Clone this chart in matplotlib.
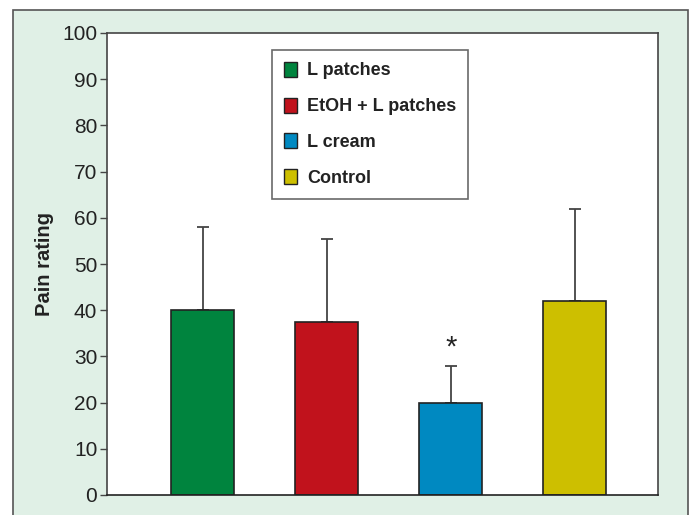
import matplotlib
matplotlib.use("Agg")
import matplotlib.pyplot as plt
from matplotlib.patches import Rectangle, Patch

categories = ["L patches", "EtOH + L patches", "L cream", "Control"]
means = [40, 37.5, 20, 42]
errors = [18, 18, 8, 20]
colors = ["#00843e", "#c1121c", "#0089c1", "#cdbf00"]
yticks = [0, 10, 20, 30, 40, 50, 60, 70, 80, 90, 100]

plt.rcParams['font.family'] = ['Liberation Sans', 'DejaVu Sans']

W, H = 691, 515
fig = plt.figure(figsize=(W/100, H/100), dpi=100)
fig.patch.set_facecolor("white")

# background panel
panel = Rectangle((13/W, -0.1), (688-13)/W, (1-10/H) + 0.1, transform=fig.transFigure,
                  facecolor="#e0f0e6", edgecolor="#555555", linewidth=1.2, zorder=-5)
fig.patches.append(panel)

ax = fig.add_axes([107/W, 1-495/H, (658-107)/W, (495-33)/H])
ax.set_zorder(1)
ax.set_facecolor("white")
x = list(range(len(categories)))
ax.bar(x, means, width=0.51, color=colors, edgecolor="#222222", linewidth=1.2, zorder=2)
ax.errorbar(x, means, yerr=[[0]*4, errors], fmt="none", ecolor="#444444",
            elinewidth=1.3, capsize=4, capthick=1.3, zorder=1)
ax.text(2, 32, "*", ha="center", va="center", fontsize=21, color="#222222")

ax.set_xlim(-0.77, 3.67)
ax.set_ylim(0, 100)
ax.set_yticks(yticks)
ax.set_xticks([])
ax.tick_params(axis="y", direction="out", length=5, width=1, color="#444444",
               labelsize=15, labelcolor="#222222", pad=2)
for s in ax.spines.values():
    s.set_color("#444444")
    s.set_linewidth(1.2)
ax.spines["bottom"].set_color("#222222")
ax.set_ylabel("Pain rating", fontsize=14.5, fontweight="bold", color="#222222", labelpad=6)

handles = [Patch(facecolor=c, edgecolor="#222222", linewidth=1) for c in colors]
leg = ax.legend(handles, categories, loc="upper left", bbox_to_anchor=((272-107)/551, (495-50)/462),
                frameon=True, fancybox=False, edgecolor="#444444",
                prop={"size": 13, "weight": "bold"}, handlelength=0.75, handleheight=0.9,
                labelspacing=1.0, borderpad=0.65, handletextpad=0.55, borderaxespad=0)
leg.get_frame().set_linewidth(1.2)
for t in leg.get_texts():
    t.set_color("#222222")

fig.savefig("out.png", dpi=100, facecolor=fig.get_facecolor())
